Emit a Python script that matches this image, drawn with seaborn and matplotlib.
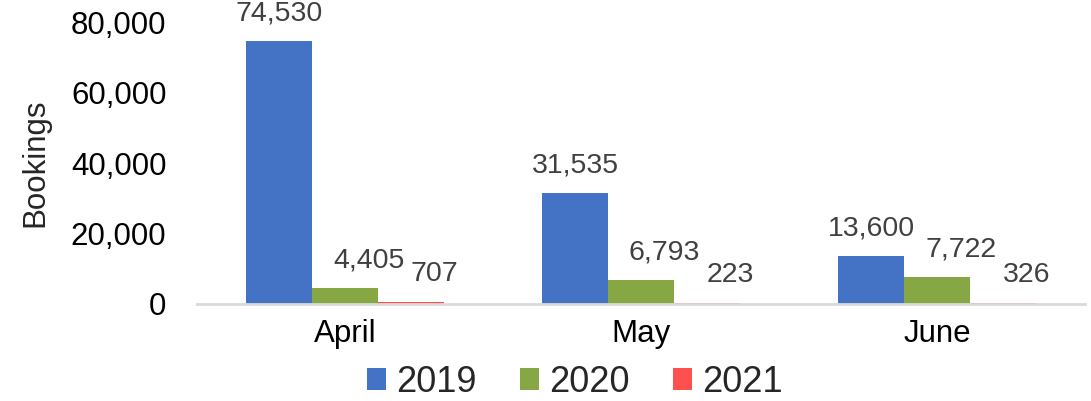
import matplotlib
matplotlib.use("Agg")
import matplotlib.pyplot as plt
import matplotlib.ticker as mticker
import pandas as pd
import seaborn as sns

# data
months = ["April", "May", "June"]
years = ["2019", "2020", "2021"]
bookings_2019 = [74530, 31535, 13600]
bookings_2020 = [4405, 6793, 7722]
bookings_2021 = [707, 223, 326]
y_ticks = [0, 20000, 40000, 60000, 80000]

colors = ["#4472C4", "#86A744", "#FF5050"]

df = pd.DataFrame({
    "month": months * 3,
    "year": [y for y in years for _ in months],
    "bookings": bookings_2019 + bookings_2020 + bookings_2021,
})

sns.set_style("white")
plt.rcParams["font.family"] = ["Liberation Sans", "DejaVu Sans"]

fig = plt.figure(figsize=(10.91, 4.01), dpi=100)
ax = fig.add_axes([0.1806, 0.2419, 0.8139, 0.7031])

sns.barplot(data=df, x="month", y="bookings", hue="year",
            palette=colors, width=0.667, gap=0, saturation=1,
            linewidth=0, ax=ax, legend=True)

# data labels (offsets in points; excel nudges the 2020/2021 ones right)
dx = [0, 17, 17]
for i, cont in enumerate(ax.containers):
    for bar in cont:
        h = bar.get_height()
        ax.annotate(f"{h:,.0f}",
                    xy=(bar.get_x() + bar.get_width() / 2, h),
                    xytext=(dx[i], 20), textcoords="offset points",
                    ha="center", va="center", fontsize=20.5,
                    color="#404040", annotation_clip=False)

ax.set_ylim(0, 80000)
ax.set_yticks(y_ticks)
ax.yaxis.set_major_formatter(mticker.FuncFormatter(lambda v, p: f"{v:,.0f}"))
ax.set_xlim(-0.5, 2.5)
ax.tick_params(axis="both", length=0, labelsize=22.5, colors="black")
ax.tick_params(axis="y", pad=22)
ax.tick_params(axis="x", pad=11)
ax.set_xlabel("")
ax.set_ylabel("Bookings", fontsize=22.5)
ax.yaxis.set_label_coords(-0.165, 0.5)

for side in ["left", "right", "top"]:
    ax.spines[side].set_visible(False)
ax.spines["bottom"].set_color("#D9D9D9")
ax.spines["bottom"].set_linewidth(2)
ax.grid(False)

handles, labels = ax.get_legend_handles_labels()
ax.legend_.remove()
fig.legend(handles, labels, loc="center", bbox_to_anchor=(0.527, 0.047),
           ncol=3, frameon=False, fontsize=26, handlelength=0.53,
           handleheight=0.53, handletextpad=0.28, columnspacing=1.2)

fig.savefig("out.png", dpi=100)
